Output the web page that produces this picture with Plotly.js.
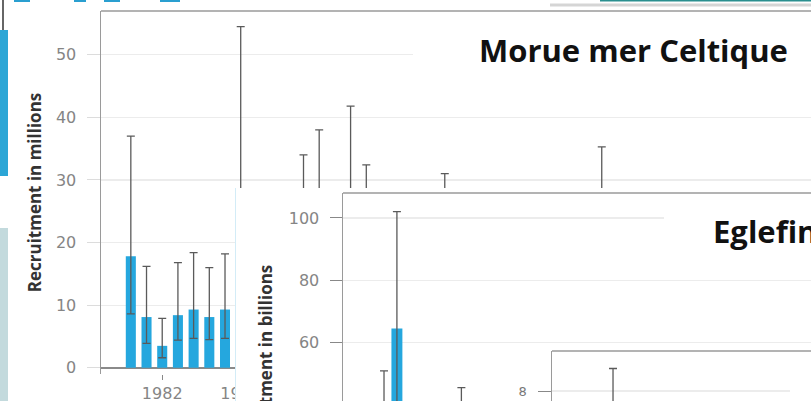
<!DOCTYPE html>
<html><head><meta charset="utf-8">
<script src="https://cdn.plot.ly/plotly-3.0.1.min.js"></script>
<style>
html,body{margin:0;padding:0;width:811px;height:401px;overflow:hidden;background:#fff;position:relative}
.c{position:absolute;background:#fff;overflow:hidden}
</style></head><body>
<div id="c1" class="c" style="left:0;top:0;width:900px;height:401px"></div>
<div id="c2" class="c" style="left:235px;top:188px;width:700px;height:400px;border-left:1px solid #d3ecf7"></div>
<div id="c3" class="c" style="left:490px;top:346px;width:400px;height:300px"></div>
<script>
// ---- Chart 1: Morue mer Celtique (recruitment in millions) ----
const codTitle = "Morue mer Celtique";
const codYTitle = "Recruitment in millions";
const codYears  = [1980, 1981, 1982, 1983, 1984, 1985, 1986, 1987, 1991, 1992, 1994, 1995, 2000, 2010];
const codValues = [17.8, 8.1, 3.5, 8.4, 9.3, 8.1, 9.3, 26, 16, 18, 20, 15, 15, 17];
const codUpper  = [37.0, 16.2, 7.9, 16.8, 18.4, 16.0, 18.2, 54.5, 34.0, 38.0, 41.8, 32.4, 31.0, 35.3];
const codLower  = [8.6, 3.9, 1.6, 4.4, 4.7, 4.5, 4.7, 12, 8, 9, 10, 7, 7, 8];
const codYTicks = [0, 10, 20, 30, 40, 50];
const codXTicks = [1982, 1987];

// ---- Chart 2: Eglefin (recruitment in billions) ----
const hadTitle = "Eglefin mer Celtique";
const hadYTitle = "Recruitment in billions";
const hadYears  = [1999, 2000, 2005];
const hadValues = [25, 64.6, 22];
const hadUpper  = [51, 102, 45.6];
const hadLower  = [12, 41, 11];
const hadYTicks = [60, 80, 100];

// ---- Chart 3 (partly visible) ----
const c3Years  = [2000];
const c3Values = [4.5];
const c3Upper  = [8.9];
const c3Lower  = [2.3];
const c3YTicks = [8];

const BLUE = '#25a7de', ERR = '#5a5a5a';
const tickFont = {family: 'DejaVu Sans, sans-serif', size: 16, color: '#858585'};
const titleFont = {family: 'Open Sans, sans-serif', size: 17, color: '#333', weight: 'bold'};
const bigFont = {family: 'Open Sans, sans-serif', size: 31, color: '#111', weight: 'bold'};
const cfg = {staticPlot: true, displayModeBar: false};

function errOf(vals, up, lo) {
  return {type: 'data', symmetric: false,
    array: vals.map((v, i) => up[i] - v),
    arrayminus: vals.map((v, i) => v - lo[i]),
    color: ERR, thickness: 1.3, width: 4};
}
// pixel helpers (page px -> paper) per chart
function mk(divL, divT, W, H, m) {
  const pw = W - m.l - m.r, ph = H - m.t - m.b;
  return {
    x: px => (px - divL - m.l) / pw,
    y: py => (divT + m.t + ph - py) / ph
  };
}
function rect(P, x0, y0, x1, y1, color, layer) {
  return {type: 'rect', xref: 'paper', yref: 'paper', x0: P.x(x0), x1: P.x(x1),
    y0: P.y(y1), y1: P.y(y0), fillcolor: color, line: {width: 0, color: color}, layer: layer || 'above'};
}
function hline(P, x0, x1, y, color, w) {
  return {type: 'line', xref: 'paper', yref: 'paper', x0: P.x(x0), x1: P.x(x1),
    y0: P.y(y), y1: P.y(y), line: {color: color, width: w}, layer: 'above'};
}

// ===== Chart 1 =====
const m1 = {l: 101, r: 0, t: 11, b: 27};
const P1 = mk(0, 0, 900, 401, m1);
Plotly.newPlot('c1', [{
  type: 'bar', x: codYears, y: codValues, width: 0.64,
  marker: {color: BLUE}, error_y: errOf(codValues, codUpper, codLower)
}], {
  width: 900, height: 401, margin: m1, showlegend: false,
  paper_bgcolor: '#fff', plot_bgcolor: '#fff',
  xaxis: {range: [1978.1, 2029], tickvals: codXTicks, ticks: 'outside', ticklen: 5,
    tickcolor: '#888', tickfont: tickFont, showgrid: false, zeroline: false, showline: false},
  yaxis: {range: [-1, 57], tickvals: codYTicks, ticks: 'outside', ticklen: 13, tickcolor: '#dcdcdc',
    ticklabelstandoff: 7, tickfont: tickFont, gridcolor: '#ececec', gridwidth: 1.2,
    zeroline: true, zerolinecolor: '#8a8a8a', zerolinewidth: 2,
    showline: true, linecolor: '#9a9a9a', linewidth: 1.5,
    title: {text: codYTitle, font: titleFont, standoff: 10}},
  shapes: [
    rect(P1, 413, 28, 900, 80, '#fff'),
    hline(P1, 101, 900, 11, '#9a9a9a', 1.5),
    rect(P1, 0, 30, 8, 176, '#2ca6d6'),
    rect(P1, 2, 0, 4, 30, '#666'),
    rect(P1, 0, 228, 8, 401, '#c3dadd'),
    rect(P1, 14, 0, 30, 2, '#2a9fd0'),
    rect(P1, 74, 0, 86, 2, '#2a9fd0'),
    rect(P1, 104, 0, 120, 2, '#2a9fd0'),
    rect(P1, 160, 0, 180, 2, '#2a9fd0'),
    rect(P1, 600, 0, 811, 1.5, '#2a8f8f'),
    hline(P1, 550, 811, 5, '#d5d5d5', 3)
  ],
  annotations: [{xref: 'paper', yref: 'paper', x: P1.x(633), y: P1.y(50), text: codTitle,
    showarrow: false, xanchor: 'center', yanchor: 'middle', font: bigFont}]
}, cfg);

// ===== Chart 2 =====
const m2 = {l: 107, r: 0, t: 5, b: 57.5};
const P2 = mk(235, 188, 700, 400, m2);
Plotly.newPlot('c2', [{
  type: 'bar', x: hadYears, y: hadValues, width: 0.85,
  marker: {color: BLUE}, error_y: errOf(hadValues, hadUpper, hadLower)
}], {
  width: 700, height: 400, margin: m2, showlegend: false,
  paper_bgcolor: '#fff', plot_bgcolor: '#fff',
  xaxis: {range: [1995.82, 2041.8], showticklabels: false, showgrid: false, zeroline: false, showline: false},
  yaxis: {range: [0, 108], tickvals: hadYTicks, ticks: 'outside', ticklen: 12, tickcolor: '#888',
    ticklabelstandoff: 7, tickfont: tickFont, gridcolor: '#ececec', gridwidth: 1.2, zeroline: false,
    showline: true, linecolor: '#9a9a9a', linewidth: 1.5,
    title: {text: hadYTitle, font: titleFont, standoff: 12}},
  shapes: [
    rect(P2, 663, 205, 935, 252, '#fff'),
    hline(P2, 342, 935, 193, '#9a9a9a', 1.5)
  ],
  annotations: [{xref: 'paper', yref: 'paper', x: P2.x(710), y: P2.y(231), text: hadTitle,
    showarrow: false, xanchor: 'left', yanchor: 'middle', font: bigFont}]
}, cfg);

// ===== Chart 3 =====
const m3 = {l: 62, r: 0, t: 5, b: 55};
const P3 = mk(490, 346, 400, 300, m3);
Plotly.newPlot('c3', [{
  type: 'bar', x: c3Years, y: c3Values, width: 0.8,
  marker: {color: BLUE}, error_y: errOf(c3Values, c3Upper, c3Lower)
}], {
  width: 400, height: 300, margin: m3, showlegend: false,
  paper_bgcolor: '#fff', plot_bgcolor: '#fff',
  xaxis: {range: [1995.27, 2021.47], showticklabels: false, showgrid: false, zeroline: false, showline: false},
  yaxis: {range: [0, 9.6], tickvals: c3YTicks, ticks: 'outside', ticklen: 13, tickcolor: '#888',
    ticklabelstandoff: 8, tickfont: {family: 'DejaVu Sans, sans-serif', size: 13, color: '#777'},
    gridcolor: '#ececec', gridwidth: 1.2, zeroline: false,
    showline: true, linecolor: '#9a9a9a', linewidth: 1.5},
  shapes: [
    rect(P3, 790, 380, 890, 400, '#fff'),
    hline(P3, 552, 890, 351, '#9a9a9a', 1.5)
  ]
}, cfg);
</script>
</body></html>
